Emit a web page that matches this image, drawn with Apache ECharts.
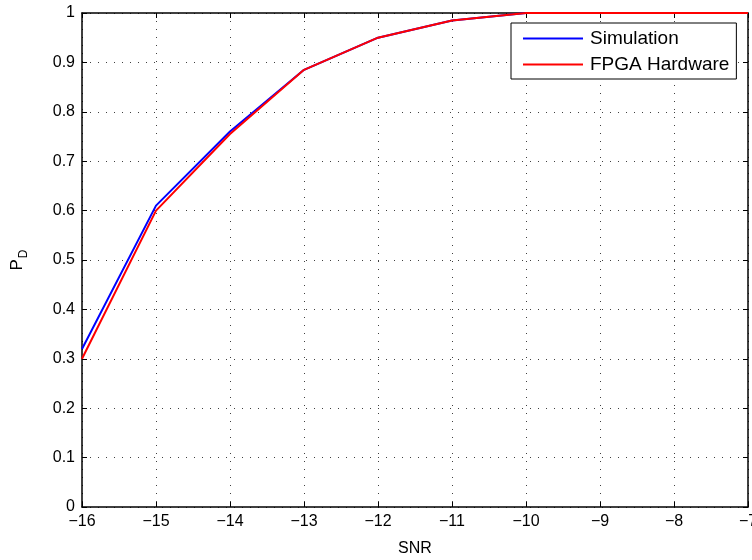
<!DOCTYPE html>
<html>
<head>
<meta charset="utf-8">
<script src="https://cdn.jsdelivr.net/npm/echarts@6/dist/echarts.min.js"></script>
<style>
  html, body { margin: 0; padding: 0; background: #fff; }
  #chart { width: 752px; height: 560px; }
</style>
</head>
<body>
<div id="chart"></div>
<script>
// SNR sweep (dB) and detection probability for both implementations
var snr = [-16, -15, -14, -13, -12, -11, -10, -9, -8, -7];
var simulation = [0.32, 0.61, 0.76, 0.885, 0.95, 0.985, 1, 1, 1, 1];
var fpgaHardware = [0.30, 0.60, 0.755, 0.885, 0.95, 0.985, 1, 1, 1, 1];
var seriesNames = ['Simulation', 'FPGA Hardware'];

var font = 'Liberation Sans, Arial, Helvetica, sans-serif';
var minus = function (v) { return String(v).replace('-', '\u2212'); };

function pairs(xs, ys) {
  return xs.map(function (x, i) { return [x, ys[i]]; });
}

var gridLine = { show: true, lineStyle: { color: '#000', type: [1, 7], width: 1, opacity: 0.75 } };
var tickIn = { show: true, inside: true, length: 5, lineStyle: { color: '#000', width: 1 } };
var axisLine = { show: true, onZero: false, lineStyle: { color: '#000', width: 1.5 } };

var chart = echarts.init(document.getElementById('chart'));
chart.setOption({
  animation: false,
  backgroundColor: '#fff',
  grid: { left: 82, right: 4, top: 13, bottom: 53, outerBoundsMode: 'none', containLabel: false },
  legend: {
    left: 511, top: 23, orient: 'vertical',
    data: seriesNames.map(function (n) { return { name: n, icon: 'rect' }; }),
    itemWidth: 60, itemHeight: 2, itemGap: 7,
    padding: [6, 7, 5, 12],
    borderColor: '#000', borderWidth: 1, backgroundColor: '#fff',
    textStyle: { fontFamily: font, fontSize: 19, color: '#000', padding: [0, 0, 0, 2] }
  },
  xAxis: [{
    type: 'value', min: -16, max: -7, interval: 1, position: 'bottom',
    name: 'SNR', nameLocation: 'middle', nameGap: 34,
    nameTextStyle: { fontFamily: font, fontSize: 16, color: '#000' },
    axisLine: axisLine, axisTick: tickIn, splitLine: gridLine,
    axisLabel: { fontFamily: font, fontSize: 16, color: '#000', margin: 7, formatter: minus }
  }, {
    type: 'value', min: -16, max: -7, interval: 1, position: 'top',
    axisLine: axisLine, axisTick: tickIn, splitLine: { show: false }, axisLabel: { show: false }
  }],
  yAxis: [{
    type: 'value', min: 0, max: 1, interval: 0.1, position: 'left',
    name: '{p|P}{d|D}', nameLocation: 'middle', nameGap: 52, nameRotate: 90,
    nameTextStyle: {
      fontFamily: font, color: '#000',
      rich: {
        p: { fontFamily: font, fontSize: 17, color: '#000' },
        d: { fontFamily: font, fontSize: 12, color: '#000', verticalAlign: 'bottom', padding: [14, 0, 0, 1] }
      }
    },
    axisLine: axisLine, axisTick: tickIn, splitLine: gridLine,
    axisLabel: { fontFamily: font, fontSize: 16, color: '#000', margin: 7 }
  }, {
    type: 'value', min: 0, max: 1, interval: 0.1, position: 'right',
    axisLine: axisLine, axisTick: tickIn, splitLine: { show: false }, axisLabel: { show: false }
  }],
  series: [{
    name: seriesNames[0], type: 'line', data: pairs(snr, simulation),
    showSymbol: false, color: '#0000ff', lineStyle: { width: 2, color: '#0000ff' }, z: 3
  }, {
    name: seriesNames[1], type: 'line', data: pairs(snr, fpgaHardware),
    showSymbol: false, color: '#ff0000', lineStyle: { width: 2, color: '#ff0000' }, z: 4
  }]
});
</script>
</body>
</html>
